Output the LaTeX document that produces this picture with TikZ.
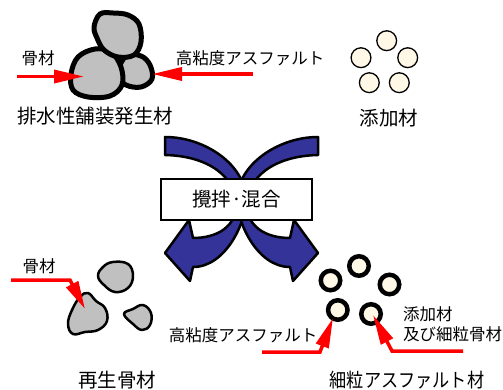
\documentclass[tikz,border=0pt]{standalone}
\usepackage{fontspec}
\usepackage{graphicx}
\setmainfont{Noto Sans CJK JP}
\usetikzlibrary{arrows.meta}
\definecolor{rockgray}{HTML}{C0C0C0}
\definecolor{flowblue}{HTML}{333399}
\definecolor{beadcream}{HTML}{FFF8E6}
\tikzset{
  small/.style={font=\fontsize{16.5}{20}\selectfont, inner sep=0pt},
  big/.style={font=\fontsize{19.5}{23}\selectfont, inner sep=0pt},
  rock/.style={draw=black, fill=rockgray, line width=5pt, line join=round},
  pebble/.style={draw=black, fill=rockgray, line width=2.5pt, line join=round},
  additive/.style={circle, draw=black, fill=beadcream, line width=1.3pt, minimum size=19.8pt, inner sep=0pt},
  coated/.style={circle, draw=black, fill=beadcream, line width=4.5pt, minimum size=19.5pt, inner sep=0pt},
  pointer/.style={draw=red, line width=3.5pt, -{Triangle[length=30pt,width=13pt]}},
  band/.style={draw=black, fill=flowblue, line width=2.5pt, line join=round},
  mixbox/.style={draw=black, fill=white, line width=1.2pt, minimum width=151pt, minimum height=41pt, inner sep=0pt,
                 font=\fontsize{19.5}{23}\selectfont}
}
\begin{document}
\begin{tikzpicture}[x=1pt,y=-1pt]
\useasboundingbox (0,0) rectangle (503,390);

% reclaimed porous-asphalt lump: three stones stuck together
\draw[rock] plot[smooth cycle, tension=0.6] coordinates
  {(126,56) (141,56) (150,65) (152,79) (141,87) (126,85) (117,75)};
\draw[rock] plot[smooth cycle, tension=0.6] coordinates
  {(78,57) (95,49) (111,52) (121,67) (122,85) (110,96) (88,97) (73,90) (71,74)};
\draw[rock] plot[smooth cycle, tension=0.6] coordinates
  {(100,14) (113,13) (128,15) (139,24) (141,42) (134,55) (118,57) (104,50) (97,38) (94,27)};
\coordinate (aggTip) at (84,76.5);
\coordinate (aggTail) at (17,76.5);
\coordinate (binderTip) at (152,74);
\coordinate (binderTail) at (253,74);
\draw[pointer] (aggTail) -- (aggTip);
\draw[pointer] (binderTail) -- (binderTip);
\node[small] (aggTop) at (38,58) {骨材};
\node[small] (binderTop) at (250,58) {高粘度アスファルト};
\node[big] (reclaimed) at (95,116) {排水性舗装発生材};

% additive beads
\node[additive] (a1) at (386.7,40.7) {};
\node[additive] (a2) at (361,57.7) {};
\node[additive] (a3) at (407.7,57.7) {};
\node[additive] (a4) at (369.3,82.7) {};
\node[additive] (a5) at (399.3,82.7) {};
\node[big] (additives) at (389,118) {添加材};

% crossing mixing arrows
\path[band] (165,137) .. controls (205,137) and (246,165) .. (246,200)
  .. controls (246,222) and (226,267) .. (193,267)
  -- (190,281) -- (165,253) -- (189,220) -- (193,238)
  .. controls (218,238) and (236,226) .. (236,205)
  .. controls (236,178) and (210,156) .. (165,155) -- cycle;
\path[band] (318,137) .. controls (278,137) and (237,165) .. (237,200)
  .. controls (237,222) and (257,267) .. (290,267)
  -- (293,281) -- (318,253) -- (294,220) -- (290,238)
  .. controls (265,238) and (247,226) .. (247,205)
  .. controls (247,178) and (273,156) .. (318,155) -- cycle;
\node[mixbox] (mix) at (236.5,199.5) {攪拌·混合};

% recycled aggregate
\draw[pebble] plot[smooth cycle, tension=0.7] coordinates
  {(103,267) (113,262) (128,264) (133,276) (128,288) (115,292) (104,285) (98,276)};
\draw[pebble] plot[smooth cycle, tension=0.7] coordinates
  {(80,297) (88,293) (96,301) (105,308) (107,321) (98,330) (85,332) (73,334) (68,324) (72,310)};
\draw[pebble] plot[smooth cycle, tension=0.7] coordinates
  {(124,314) (133,309) (143,305) (151,313) (150,325) (142,330) (133,324)};
\coordinate (rAggTail) at (11,280);
\coordinate (rAggBend) at (70,280);
\coordinate (rAggTip) at (85,309);
\draw[pointer,-{Triangle[length=28pt,width=13pt]}] (rAggTail) -- (rAggBend) -- (rAggTip);
\node[small] (aggBottom) at (39,266) {骨材};
\node[big] (recycled) at (117,380) {再生骨材};

% fine-grained asphalt mix: coated beads
\node[coated] (c1) at (359,266) {};
\node[coated] (c2) at (330.5,280.5) {};
\node[coated] (c3) at (389.5,284.5) {};
\node[coated] (c4) at (337.8,310) {};
\node[coated] (c5) at (371,314) {};
\coordinate (fbTail) at (262,352);
\coordinate (fbBend) at (320,352);
\coordinate (fbTip) at (333,318);
\coordinate (fgTail) at (463,351);
\coordinate (fgBend) at (392,351);
\coordinate (fgTip) at (373,315);
\draw[pointer] (fbTail) -- (fbBend) -- (fbTip);
\draw[pointer] (fgTail) -- (fgBend) -- (fgTip);
\node[small] (binderBottom) at (243,335) {高粘度アスファルト};
\node[small, align=left, anchor=west] (fines) at (403,324) {添加材\\及び細粒骨材};
\node[big] (fineMix) at (407,380) {\scalebox{0.88}[1]{細粒アスファルト材}};
\end{tikzpicture}
\end{document}
